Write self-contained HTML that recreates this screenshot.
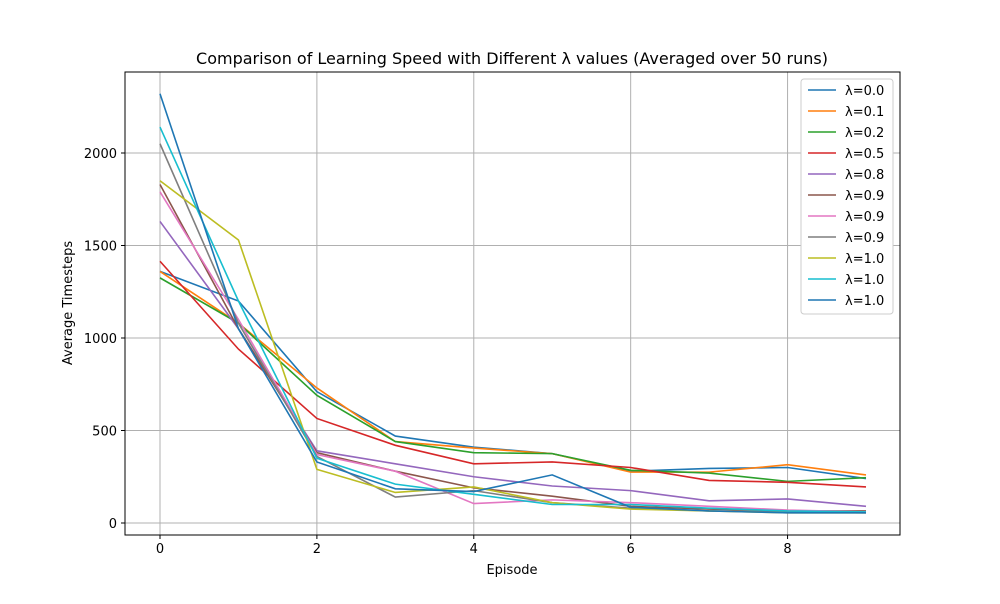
<!DOCTYPE html>
<html><head><meta charset="utf-8"><style>
body{margin:0;background:#fff;font-family:"DejaVu Sans","Liberation Sans",sans-serif}
svg text{font-family:"DejaVu Sans","Liberation Sans",sans-serif}
</style></head><body>
<svg id="chart" width="1000" height="600" xmlns="http://www.w3.org/2000/svg"></svg>
<script>
const episodes=[0,1,2,3,4,5,6,7,8,9];
const labels=["λ=0.0","λ=0.1","λ=0.2","λ=0.5","λ=0.8","λ=0.9","λ=0.9","λ=0.9","λ=1.0","λ=1.0","λ=1.0"];
const s0=[1360,1200,710,470,410,375,280,295,300,240];
const s1=[1360,1080,730,440,405,375,275,275,315,260];
const s2=[1325,1080,690,440,380,375,285,270,225,245];
const s3=[1415,940,565,420,320,330,300,230,220,195];
const s4=[1630,1050,390,320,250,200,175,120,130,90];
const s5=[1830,1050,380,280,190,145,90,75,65,65];
const s6=[1790,1100,370,280,105,125,110,90,70,60];
const s7=[2050,1080,360,140,175,110,80,65,60,55];
const s8=[1850,1530,290,165,195,110,75,65,55,55];
const s9=[2140,1200,350,210,155,100,100,80,65,60];
const s10=[2320,1050,330,185,170,260,85,65,55,55];
const series=[s0,s1,s2,s3,s4,s5,s6,s7,s8,s9,s10];
const xTicks=[0,2,4,6,8];
const yTicks=[0,500,1000,1500,2000];
const colors=["#1f77b4","#ff7f0e","#2ca02c","#d62728","#9467bd","#8c564b","#e377c2","#7f7f7f","#bcbd22","#17becf","#1f77b4"];
const L=125,R=900,T=72,B=535;
const X=v=>160+(v-0)*(866-160)/9;
const Y=v=>523-v*0.185;
const svg=document.getElementById('chart');
const NS="http://www.w3.org/2000/svg";
function mk(tag,attrs,parent){const e=document.createElementNS(NS,tag);for(const k in attrs)e.setAttribute(k,attrs[k]);(parent||svg).appendChild(e);return e;}
xTicks.forEach(t=>{const l=mk('line',{x1:X(t),x2:X(t),y1:T,y2:B,stroke:'#b0b0b0','stroke-width':1});


const tk=mk('line',{x1:X(t),x2:X(t),y1:B,y2:B+4,stroke:'#000'});


const tx=mk('text',{x:X(t),y:B+18,'text-anchor':'middle','font-size':13});tx.textContent=t;

});
yTicks.forEach(t=>{const l=mk('line',{x1:L,x2:R,y1:Y(t),y2:Y(t),stroke:'#b0b0b0','stroke-width':1});


const tk=mk('line',{x1:L-4,x2:L,y1:Y(t),y2:Y(t),stroke:'#000'});


const tx=mk('text',{x:L-8,y:Y(t)+5,'text-anchor':'end','font-size':13});tx.textContent=t;

});
series.forEach((s,i)=>{const p=mk('polyline',{points:s.map((v,j)=>X(episodes[j])+','+Y(v)).join(' '),fill:'none',stroke:colors[i],'stroke-width':1.6});

});
const fr=mk('rect',{x:L,y:T,width:R-L,height:B-T,fill:'none',stroke:'#000','stroke-width':1});


const ti=mk('text',{x:512,y:64,'text-anchor':'middle','font-size':16});ti.textContent='Comparison of Learning Speed with Different λ values (Averaged over 50 runs)';


const xl=mk('text',{x:512,y:574,'text-anchor':'middle','font-size':13});xl.textContent='Episode';


const yl=mk('text',{x:72,y:303,'text-anchor':'middle','font-size':13,transform:'rotate(-90 72 303)'});yl.textContent='Average Timesteps';


const g=mk('g',{});


mk('rect',{x:801,y:79,width:92,height:235,fill:'#fff',stroke:'#ccc',rx:3},g);
labels.forEach((lab,i)=>{const y=90+i*21;
const ln=mk('line',{x1:808,x2:836,y1:y,y2:y,stroke:colors[i],'stroke-width':1.6},g);


const t=mk('text',{x:845,y:y+5,'font-size':13},g);t.textContent=lab;

});
</script>
</body></html>
